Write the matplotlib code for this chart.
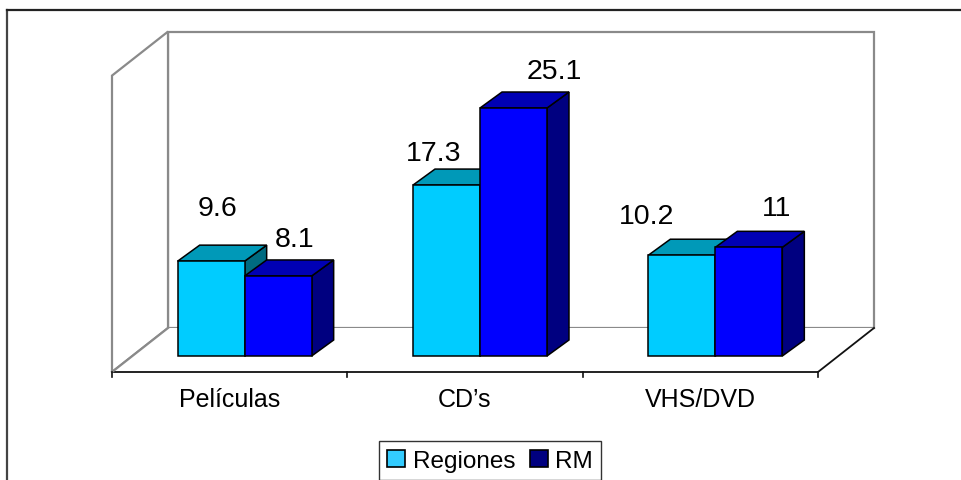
import matplotlib
matplotlib.use("Agg")
import matplotlib.pyplot as plt
from matplotlib.patches import Polygon, Patch
from matplotlib.lines import Line2D

plt.rcParams['font.family'] = ['Liberation Sans', 'DejaVu Sans']

# Data
categories = ["Películas", "CD’s", "VHS/DVD"]
series_names = ["Regiones", "RM"]
regiones = [9.6, 17.3, 10.2]
rm = [8.1, 25.1, 11]
axis_max = 30

# Styles
front_colors = ["#00CCFF", "#0000FF"]
top_colors = ["#0099B8", "#0000B4"]
side_colors = ["#006B80", "#000080"]
legend_colors = ["#33CCFF", "#000080"]

W, H = 962, 481
fig = plt.figure(figsize=(W / 100, H / 100), dpi=100)
ax = fig.add_axes([0, 0, 1, 1])
ax.axis('off')

# pixel scale of the projected axes
UX = 235.33   # px per category
UY = 9.88     # px per value unit
X0, Y0 = 112, 357
ax.set_xlim(-X0 / UX, (W - X0) / UX)
ax.set_ylim((Y0 - H) / UY, Y0 / UY)

# wall / floor geometry (in data units)
WDX, WDY = 56 / UX, 44 / UY
vf = (Y0 - 373) / UY
vb = vf + WDY
ncat = len(categories)

wall_kw = dict(facecolor='white', edgecolor='#8a8a8a', lw=1.6, zorder=1)
ax.add_patch(Polygon([(WDX, vb), (ncat + WDX, vb), (ncat + WDX, vb + axis_max),
                      (WDX, vb + axis_max)], closed=True, **wall_kw))
ax.add_patch(Polygon([(0, vf), (WDX, vb), (WDX, vb + axis_max), (0, vf + axis_max)],
                     closed=True, **wall_kw))
ax.add_patch(Polygon([(0, vf), (ncat, vf), (ncat + WDX, vb), (WDX, vb)], closed=True,
                     facecolor='white', edgecolor='none', zorder=1))
ax.plot([0, ncat, ncat + WDX], [vf, vf, vb], color='#111111', lw=1.3, zorder=2)
ax.plot([0, WDX], [vf, vb], color='#8a8a8a', lw=1.6, zorder=2)
for i in range(ncat + 1):
    ax.plot([i, i], [vf, vf - 5 / UY], color='#111111', lw=1.2, zorder=2)

# bars
BW = 67 / UX
SX = 15 / UX
BDX, BDY = 22 / UX, 16 / UY
label_offsets = [[(6.5, 46), (16.5, 30)],
                 [(-12.5, 25), (41, 30)],
                 [(-35, 32), (28, 32)]]

for s, vals in enumerate([regiones, rm]):
    lefts = [i + 0.5 + SX - BW + s * BW for i in range(ncat)]
    for left, v in zip(lefts, vals):
        right = left + BW
        ax.add_patch(Polygon([(right, 0), (right + BDX, BDY), (right + BDX, v + BDY), (right, v)],
                             closed=True, facecolor=side_colors[s], edgecolor='black',
                             lw=1.1, zorder=3 + s))
        ax.add_patch(Polygon([(left, v), (right, v), (right + BDX, v + BDY), (left + BDX, v + BDY)],
                             closed=True, facecolor=top_colors[s], edgecolor='black',
                             lw=1.1, zorder=3 + s))
    ax.bar(lefts, vals, width=BW, align='edge', bottom=0, color=front_colors[s],
           edgecolor='black', lw=1.1, zorder=3 + s)
    for i, (left, v) in enumerate(zip(lefts, vals)):
        dx, dy = label_offsets[i][s]
        ax.annotate(f"{v:g}", xy=(left + BW / 2, v), xytext=(dx * 0.72, dy * 0.72),
                    textcoords='offset points', ha='center', va='baseline',
                    fontsize=20.5, color='black', zorder=6)

# category labels
for i, c in enumerate(categories):
    ax.text(i + 0.5, (Y0 - 407) / UY, c, ha='center', va='baseline', fontsize=18,
            color='black', zorder=6)

# legend
handles = [Patch(facecolor=legend_colors[k], edgecolor='black', lw=1.2, label=series_names[k])
           for k in range(2)]
leg = fig.legend(handles=handles, loc='upper center', bbox_to_anchor=(490 / W, 1 - 442 / H),
                 ncol=2, frameon=True, fancybox=False, fontsize=17.5, handlelength=0.75,
                 handleheight=0.75, handletextpad=0.3, columnspacing=0.6,
                 borderpad=0.35, borderaxespad=0)
leg.get_frame().set_edgecolor('black')
leg.get_frame().set_linewidth(1.0)

# outer frame
fig.add_artist(Line2D([7 / W, 7 / W], [0, 1 - 11 / H], transform=fig.transFigure,
                      color='#444444', lw=1.6))
fig.add_artist(Line2D([7 / W, 1], [1 - 11 / H, 1 - 11 / H], transform=fig.transFigure,
                      color='#222222', lw=1.6))

fig.savefig("out.png", dpi=100, facecolor='white')
